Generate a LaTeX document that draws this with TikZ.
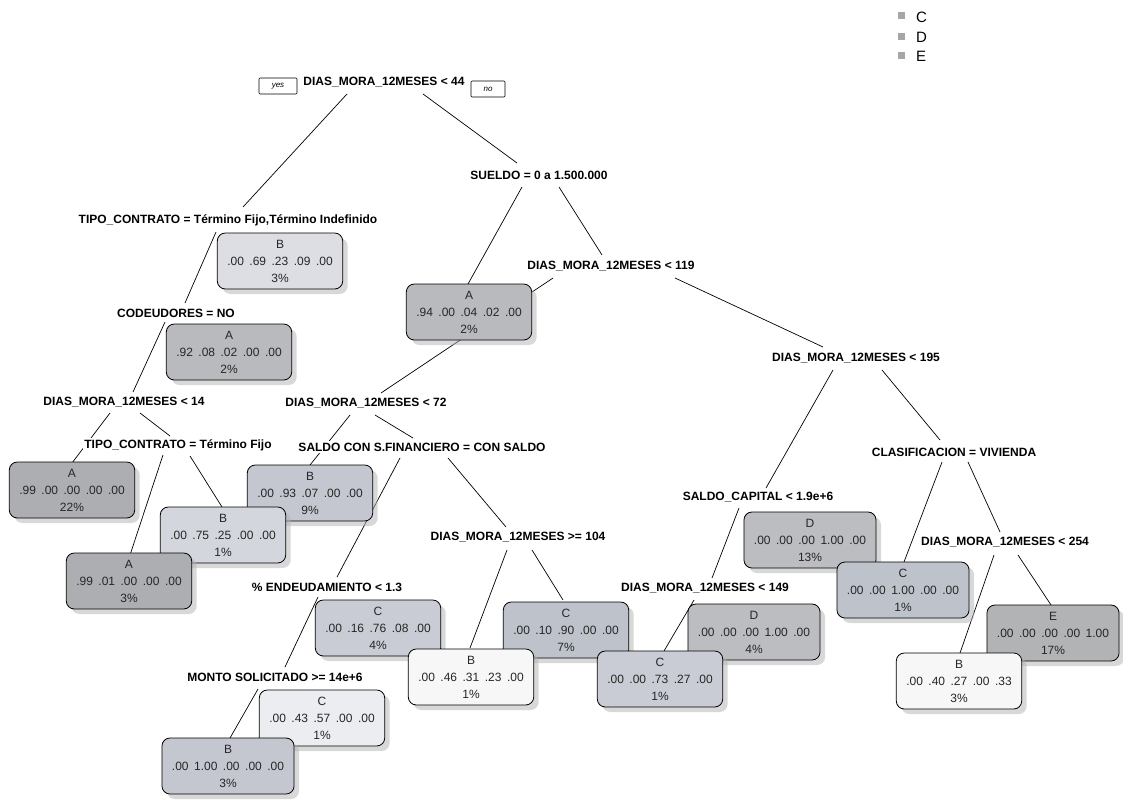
\documentclass[tikz,border=0pt]{standalone}
\usepackage{fontspec}
\setmainfont{Liberation Sans}
\usepackage{xcolor}
\usetikzlibrary{shadows, backgrounds, calc}

\definecolor{colA}{RGB}{172,174,177}
\definecolor{colAl}{RGB}{184,186,189}
\definecolor{colB}{RGB}{196,199,207}
\definecolor{colBm}{RGB}{212,214,221}
\definecolor{colBl}{RGB}{220,222,228}
\definecolor{colBw}{RGB}{247,247,248}
\definecolor{colC}{RGB}{190,194,203}
\definecolor{colCm}{RGB}{201,204,212}
\definecolor{colCw}{RGB}{236,237,240}
\definecolor{colD}{RGB}{187,189,193}
\definecolor{colE}{RGB}{177,179,181}

\newcommand{\classbox}[7]{#1\\#2\hspace{5.5pt}#3\hspace{5.5pt}#4\hspace{5.5pt}#5\hspace{5.5pt}#6\\#7}

\tikzset{
  splitlbl/.style={fill=white, inner sep=1.5pt, font=\fontsize{12}{14}\selectfont\bfseries},
  leafbox/.style={draw, line width=0.8pt, rounded corners=8pt, align=center, inner xsep=10pt, inner ysep=5pt,
    minimum height=56pt, text=black!85, font=\fontsize{12}{17}\selectfont,
    drop shadow={shadow xshift=5pt, shadow yshift=-5pt, fill=black!30, opacity=0.5}},
  yesno/.style={draw, line width=0.6pt, rounded corners=1pt, minimum height=16pt,
    inner sep=1pt, font=\fontsize{8}{9}\selectfont\itshape},
  branch/.style={line width=0.7pt},
  legsq/.style={fill=black!35, minimum size=7pt, inner sep=0pt},
  legtxt/.style={anchor=west, inner sep=0pt, font=\fontsize{15}{17}\selectfont},
}

\begin{document}
\begin{tikzpicture}[x=1pt, y=-1pt]
  \useasboundingbox (0,0) rectangle (1123,800);

  % legend
  \node[legsq] (sqC) at (901,16) {};
  \node[legsq] (sqD) at (901,37) {};
  \node[legsq] (sqE) at (901,56) {};
  \node[legtxt] (legC) at (916,17) {C};
  \node[legtxt] (legD) at (916,37) {D};
  \node[legtxt] (legE) at (916,56) {E};

  % splits
  \node[splitlbl] (root) at (384,82) {DIAS\_MORA\_12MESES < 44};
  \node[yesno, minimum width=38pt] (yes) at (278,86) {yes};
  \node[yesno, minimum width=34pt] (no) at (488,89) {no};
  \node[splitlbl] (tipoA) at (228,220) {TIPO\_CONTRATO = Término Fijo,Término Indefinido};
  \node[splitlbl] (sueldo) at (539,175) {SUELDO = 0 a 1.500.000};
  \node[splitlbl] (d119) at (611,266) {DIAS\_MORA\_12MESES < 119};
  \node[splitlbl] (codeu) at (176,313) {CODEUDORES = NO};
  \node[splitlbl] (d195) at (856,358) {DIAS\_MORA\_12MESES < 195};
  \node[splitlbl] (d14) at (124,402) {DIAS\_MORA\_12MESES < 14};
  \node[splitlbl] (d72) at (366,403) {DIAS\_MORA\_12MESES < 72};
  \node[splitlbl] (tipoF) at (178,445) {TIPO\_CONTRATO = Término Fijo};
  \node[splitlbl] (saldo) at (422,447) {SALDO CON S.FINANCIERO = CON SALDO};
  \node[splitlbl] (clasif) at (954,452) {CLASIFICACION = VIVIENDA};
  \node[splitlbl] (scap) at (758,497) {SALDO\_CAPITAL < 1.9e+6};
  \node[splitlbl] (d104) at (518,537) {DIAS\_MORA\_12MESES >= 104};
  \node[splitlbl] (d254) at (1005,542) {DIAS\_MORA\_12MESES < 254};
  \node[splitlbl] (endeu) at (327,587) {\% ENDEUDAMIENTO < 1.3};
  \node[splitlbl] (d149) at (705,588) {DIAS\_MORA\_12MESES < 149};
  \node[splitlbl] (monto) at (275,677) {MONTO SOLICITADO >= 14e+6};

  % leaves
  \node[leafbox, fill=colBl] (bB3) at (280,261) {\classbox{B}{.00}{.69}{.23}{.09}{.00}{3\%}};
  \node[leafbox, fill=colAl] (bA2a) at (469,312) {\classbox{A}{.94}{.00}{.04}{.02}{.00}{2\%}};
  \node[leafbox, fill=colAl] (bA2b) at (229,352) {\classbox{A}{.92}{.08}{.02}{.00}{.00}{2\%}};
  \node[leafbox, fill=colA] (bA22) at (72,490) {\classbox{A}{.99}{.00}{.00}{.00}{.00}{22\%}};
  \node[leafbox, fill=colB] (bB9) at (310,493) {\classbox{B}{.00}{.93}{.07}{.00}{.00}{9\%}};
  \node[leafbox, fill=colBm] (bB1a) at (223,535) {\classbox{B}{.00}{.75}{.25}{.00}{.00}{1\%}};
  \node[leafbox, fill=colD] (bD13) at (810,540) {\classbox{D}{.00}{.00}{.00}{1.00}{.00}{13\%}};
  \node[leafbox, fill=colA] (bA3) at (129,581) {\classbox{A}{.99}{.01}{.00}{.00}{.00}{3\%}};
  \node[leafbox, fill=colC] (bC1a) at (903,590) {\classbox{C}{.00}{.00}{1.00}{.00}{.00}{1\%}};
  \node[leafbox, fill=colCm] (bC4) at (378,628) {\classbox{C}{.00}{.16}{.76}{.08}{.00}{4\%}};
  \node[leafbox, fill=colC] (bC7) at (566,630) {\classbox{C}{.00}{.10}{.90}{.00}{.00}{7\%}};
  \node[leafbox, fill=colD] (bD4) at (754,632) {\classbox{D}{.00}{.00}{.00}{1.00}{.00}{4\%}};
  \node[leafbox, fill=colE] (bE17) at (1053,633) {\classbox{E}{.00}{.00}{.00}{.00}{1.00}{17\%}};
  \node[leafbox, fill=colBw] (bB1b) at (471,677) {\classbox{B}{.00}{.46}{.31}{.23}{.00}{1\%}};
  \node[leafbox, fill=colCm] (bC1b) at (660,679) {\classbox{C}{.00}{.00}{.73}{.27}{.00}{1\%}};
  \node[leafbox, fill=colBw] (bB3b) at (959,681) {\classbox{B}{.00}{.40}{.27}{.00}{.33}{3\%}};
  \node[leafbox, fill=colCw] (bC1c) at (322,718) {\classbox{C}{.00}{.43}{.57}{.00}{.00}{1\%}};
  \node[leafbox, fill=colB] (bB3c) at (228,766) {\classbox{B}{.00}{1.00}{.00}{.00}{.00}{3\%}};

  \begin{pgfonlayer}{background}
    \draw[branch] ($(root)+(-37,12)$) -- ($(tipoA)+(15,-13)$);
    \draw[branch] ($(root)+(39,12)$) -- ($(sueldo)+(-22,-12)$);
    \draw[branch] ($(tipoA)+(-12,12)$) -- ($(codeu)+(9,-10)$);
    \draw[branch] ($(sueldo)+(-17,12)$) -- ($(bA2a)+(-1,-28)$);
    \draw[branch] ($(sueldo)+(20,12)$) -- ($(d119)+(-9,-11)$);
    \draw[branch] ($(codeu)+(-11,9)$) -- ($(d14)+(9,-10)$);
    \draw[branch] ($(d119)+(-58,12)$) -- ($(d72)+(15,-10)$);
    \draw[branch] ($(d119)+(64,12)$) -- ($(d195)+(-33,-11)$);
    \draw[branch] ($(d14)+(-14,11)$) -- ($(bA22)+(0,-27)$);
    \draw[branch] ($(d14)+(16,11)$) -- ($(tipoF)+(-8,-9)$);
    \draw[branch] ($(d72)+(-16,12)$) -- ($(bB9)+(0,-28)$);
    \draw[branch] ($(d72)+(9,12)$) -- ($(saldo)+(-9,-9)$);
    \draw[branch] ($(d195)+(-23,12)$) -- ($(scap)+(8,-9)$);
    \draw[branch] ($(d195)+(26,12)$) -- ($(clasif)+(-14,-12)$);
    \draw[branch] ($(tipoF)+(-15,10)$) -- ($(bA3)+(1,-26)$);
    \draw[branch] ($(tipoF)+(12,11)$) -- ($(bB1a)+(-1,-28)$);
    \draw[branch] ($(saldo)+(-22,11)$) -- ($(endeu)+(10,-10)$);
    \draw[branch] ($(saldo)+(26,11)$) -- ($(d104)+(-12,-10)$);
    \draw[branch] ($(clasif)+(-12,10)$) -- ($(bC1a)+(1,-28)$);
    \draw[branch] ($(clasif)+(14,10)$) -- ($(d254)+(-5,-10)$);
    \draw[branch] ($(scap)+(-19,11)$) -- ($(d149)+(7,-10)$);
    \draw[branch] ($(d104)+(-11,13)$) -- ($(bB1b)+(-1,-29)$);
    \draw[branch] ($(d104)+(14,13)$) -- ($(bC7)+(-3,-30)$);
    \draw[branch] ($(d254)+(-11,13)$) -- ($(bB3b)+(1,-28)$);
    \draw[branch] ($(d254)+(13,13)$) -- ($(bE17)+(-2,-28)$);
    \draw[branch] ($(endeu)+(-9,10)$) -- ($(monto)+(10,-10)$);
    \draw[branch] ($(d149)+(-11,12)$) -- ($(bC1b)+(4,-28)$);
    \draw[branch] ($(monto)+(-17,12)$) -- ($(bB3c)+(2,-28)$);
  \end{pgfonlayer}
\end{tikzpicture}
\end{document}
